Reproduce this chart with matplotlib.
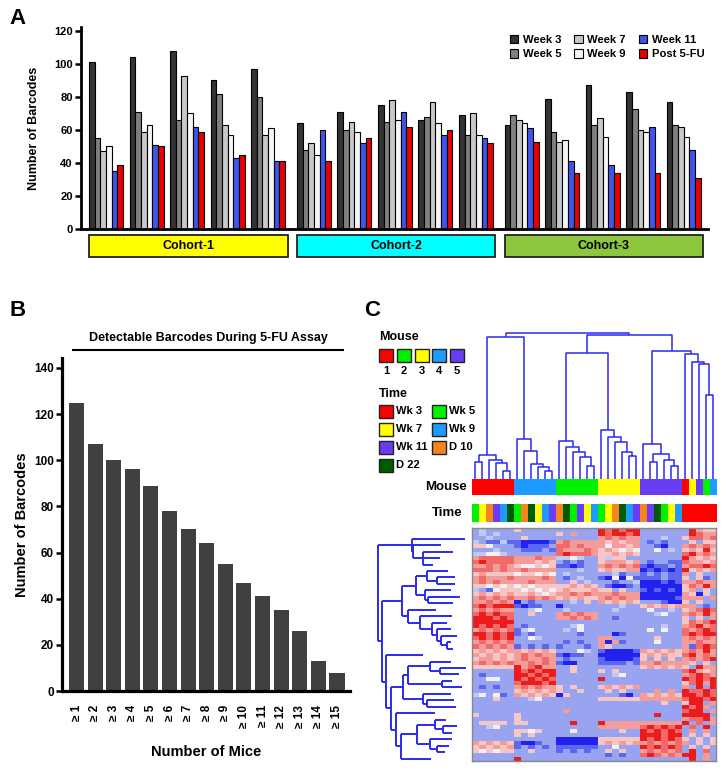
## Barcode tracking figure: bar charts (A, B) and clustered heatmap (C)
import numpy as np
from matplotlib import pyplot as plt
from matplotlib.patches import Rectangle
from matplotlib.colors import ListedColormap
import matplotlib.transforms as mtransforms

plt.rcParams['font.family'] = ['Liberation Sans', 'DejaVu Sans']
plt.rcParams['font.weight'] = 'bold'

## ---------------- panel A data ----------------
Weeks=['Week 3','Week 5','Week 7','Week 9','Week 11','Post 5-FU']
WeekCols=['#333333','#808080','#c8c8c8','#f5f5f5','#3f55ea','#e80000']
Cohorts=['Cohort-1','Cohort-2','Cohort-3']
CohortCols=['#ffff00','#00ffff','#8dc63f']
## one row per mouse (5 mice per cohort), one column per time point
Barcodes=np.array([
    [101,55,47,50,35,39],
    [104,71,59,63,51,50],
    [108,66,93,70,62,59],
    [90,82,63,57,43,45],
    [97,80,57,61,41,41],
    [64,48,52,45,60,41],
    [71,60,65,59,52,55],
    [75,65,78,66,71,62],
    [66,68,77,64,57,60],
    [69,57,70,57,55,52],
    [63,69,66,64,61,53],
    [79,59,53,54,41,34],
    [87,63,67,56,39,34],
    [83,73,60,59,62,34],
    [77,63,62,56,48,31]])
YTicksA=[0,20,40,60,80,100,120]

## ---------------- panel B data ----------------
MiceLabs=['≥ 1','≥ 2','≥ 3','≥ 4','≥ 5','≥ 6','≥ 7','≥ 8','≥ 9','≥ 10','≥ 11','≥ 12','≥ 13','≥ 14','≥ 15']
MiceCounts=[125,107,100,96,89,78,70,64,55,47,41,35,26,13,8]
YTicksB=[0,20,40,60,80,100,120,140]

## ---------------- panel C data ----------------
MouseLabs=['1','2','3','4','5']
MouseCols={1:'#ff0000',2:'#00f000',3:'#ffff00',4:'#1e9bff',5:'#6a3cf5'}
TimeLabs=['Wk 3','Wk 5','Wk 7','Wk 9','Wk 11','D 10','D 22']
TimeCols={'Wk 3':'#ff0000','Wk 5':'#00f000','Wk 7':'#ffff00','Wk 9':'#1e9bff',
          'Wk 11':'#6a3cf5','D 10':'#f7851e','D 22':'#005c00'}
## sample order of the heatmap columns
ColMouse=[1,1,1,1,1,1, 4,4,4,4,4,4, 2,2,2,2,2,2, 3,3,3,3,3,3, 5,5,5,5,5,5, 1,3,5,2,4]
ColTime=['Wk 5','Wk 7','D 10','Wk 11','Wk 9','D 22',
         'Wk 5','D 10','D 22','Wk 7','Wk 9','Wk 11',
         'D 10','D 22','Wk 5','Wk 11','Wk 7','Wk 9',
         'Wk 5','Wk 7','D 10','D 22','Wk 9','Wk 11',
         'D 10','Wk 11','D 22','Wk 5','Wk 7','Wk 9',
         'Wk 3','Wk 3','Wk 3','Wk 3','Wk 3']

## relative abundance levels (0 = deep blue ... 8 = red)
HeatRows=[
 "232222 522222 222222 878788 222222 28655",
 "232322 222222 526222 878878 222222 28766",
 "223222 252222 222222 676766 222322 57767",
 "321131 100001 676666 656566 212122 25255",
 "554222 101112 776766 646656 221022 67676",
 "222322 211121 766676 565454 224232 56585",
 "334432 222222 787776 556565 222222 78676",
 "677777 666766 334322 535522 222222 86565",
 "787777 666565 212122 566656 212211 76656",
 "667676 544545 110122 676767 101121 67787",
 "777676 676666 222322 565566 010101 85656",
 "565555 455454 232222 223122 121211 62522",
 "676667 666676 212322 104041 111211 52512",
 "676766 667666 225232 221223 000101 66766",
 "554545 454555 556565 210012 000000 57686",
 "321455 545454 565556 552522 101010 56252",
 "565656 556545 667676 667666 000000 65052",
 "676767 667676 565655 676766 000001 66626",
 "667676 021222 223252 656565 222100 52522",
 "787888 101122 022222 222322 565656 66212",
 "676766 223422 232222 223222 242232 56787",
 "787877 225222 676766 222222 223422 67686",
 "888787 222222 667676 221222 222222 52526",
 "888888 222222 222222 222222 222222 57678",
 "878787 212222 223422 222222 222322 67867",
 "676767 134222 232422 222222 242422 76787",
 "887878 121222 222122 220122 222222 78788",
 "787878 224322 222222 662222 225222 67676",
 "676767 222222 212122 606122 224222 66766",
 "767676 121212 122212 652222 222222 61787",
 "565656 656565 222432 100001 656565 67686",
 "656565 676766 101122 000000 565655 78676",
 "566565 676676 212222 100001 525252 67678",
 "676767 667676 100222 111121 667666 65252",
 "555555 867866 225222 222222 565656 52866",
 "222222 878788 225222 525222 222222 78656",
 "212222 887878 222222 223422 222222 67876",
 "224422 878787 222222 822222 222222 87878",
 "222222 788878 222222 222222 222222 57868",
 "212122 676766 525222 565656 222222 62828",
 "222222 565656 522522 252522 226262 87787",
 "342412 656565 052222 222102 656565 88787",
 "222522 223422 222222 555555 666666 78878",
 "222222 222222 222222 222222 222522 58826",
 "222222 222222 222222 222222 222222 87862",
 "222222 222222 262222 222222 222222 78826",
 "522222 522222 222222 222222 228222 88882",
 "222222 522222 222222 222222 222222 67786",
 "255552 552222 228222 866666 666666 82726",
 "223422 222222 222222 666666 787878 27282",
 "222222 554522 224222 222522 878787 26262",
 "222222 525222 222222 222222 888788 25252",
 "222222 222222 000000 555555 878787 52525",
 "656565 100122 000000 565656 676767 62525",
 "565656 121212 111111 224222 878787 25252",
 "545455 225222 121212 252522 676767 28272",
 "222222 222222 222222 212122 787676 88262",
 "222222 822222 222222 222222 222222 28262"]
HeatCols=['#2222f0','#5c66ee','#98a4f0','#c0c8f4','#f2f0f6','#f6c6c4','#f39c9a','#ef6a68','#ec1c1c']

## column tree: (link height, left, right), leaves are column numbers
m1=(72,(52,0,1),(57,2,(47,3,(25,4,5))))
m4=(119,6,(85,7,(46,8,(37,9,(25,10,11)))))
m2=(114,12,(97,13,(82,14,(65,15,(38,16,17)))))
m3=(147,18,(127,19,(112,20,(82,21,(70,22,23)))))
m5=(105,24,(75,(52,25,26),(57,27,(40,28,29))))
wk3=(374,30,(350,31,(345,32,(252,33,34))))
ColTree=(437,(425,m1,m4),(432,(379,m2,m3),(384,m5,wk3)))

## row tree: (node depth, [children]), leaves are the depth of their tips
rA=(125,[285,(130,[212,(160,[250,210,190])])])
rE=(137,[(172,[235,(200,[255,255])]),(165,[243,(175,[270,248])])])
rF=(115,[198,(150,[247,(185,[232,(200,[243,(213,[262,(230,[243,248])])])])])])
rM=(100,[(115,[(180,[242,(210,[288,268])]),(215,[245,276])]),(160,[242,(172,[253,258])])])
rN=(78,[195,(92,[(140,[(195,[228,(220,[262,245])]),(180,[245,(200,[238,225])])]),183])])
RowTree=(25,[rA,(37,[(95,[rE,rF]),(47,[160,(63,[rM,rN])])])])

DendCol='#2a2af0'

## ---------------- figure ----------------
W,H=725.,771.
fig=plt.figure(figsize=(W/100.,H/100.),dpi=100)

## helper: pixel box (left, top, right, bottom) -> figure fraction rect
def px(x0,y0,x1,y1):
    return [x0/W,1-y1/H,(x1-x0)/W,(y1-y0)/H]

## ===== panel A =====
axA=fig.add_axes(px(81,27,708,229))
bw=0.14
gx=np.arange(Barcodes.shape[0])+(np.arange(Barcodes.shape[0])//5)*0.13
for k in range(len(Weeks)):
    axA.bar(gx+k*bw,Barcodes[:,k],width=bw,align='edge',color=WeekCols[k],
            edgecolor='k',linewidth=0.8,label=Weeks[k])
axA.set_xlim(-0.198,15.28)
axA.set_ylim(0,122.4)
axA.set_yticks(YTicksA)
axA.set_xticks([])
for s in ['top','right']:
    axA.spines[s].set_visible(False)
for s in ['left','bottom']:
    axA.spines[s].set_linewidth(2)
axA.tick_params(axis='y',length=4,width=1.8,labelsize=8,pad=2)
axA.set_ylabel('Number of Barcodes',fontsize=9,fontweight='bold',labelpad=10)

trA=mtransforms.blended_transform_factory(axA.transData,axA.transAxes)
for c,lab in enumerate(Cohorts):
    x0=gx[c*5]-0.0
    x1=gx[c*5+4]+6*bw+0.06
    axA.add_patch(Rectangle((x0,-0.139),x1-x0,0.109,transform=trA,clip_on=False,
                            facecolor=CohortCols[c],edgecolor='#222222',linewidth=1.3))
    axA.text((x0+x1)/2.,-0.085,lab,transform=trA,ha='center',va='center',fontsize=9,fontweight='bold')

leg=axA.legend(loc='upper left',bbox_to_anchor=(0.684,0.96),ncol=3,frameon=False,
               fontsize=8.1,handlelength=0.75,handleheight=0.75,handletextpad=0.4,
               columnspacing=1.15,labelspacing=0.38,borderaxespad=0,borderpad=0)
fig.text(18/W,1-18/H,'A',fontsize=16,fontweight='bold',ha='center',va='center')

## ===== panel B =====
axB=fig.add_axes(px(62,358,350,691))
xb=np.arange(len(MiceCounts))
axB.bar(xb,MiceCounts,width=0.81,color='#404040')
axB.set_xlim(-0.78,14.7)
axB.set_ylim(0,144.3)
axB.set_yticks(YTicksB)
axB.set_xticks(xb)
axB.set_xticklabels(MiceLabs,rotation=90,fontsize=8.5,fontweight='bold')
for s in ['top','right']:
    axB.spines[s].set_visible(False)
for s in ['left','bottom']:
    axB.spines[s].set_linewidth(2.3)
axB.tick_params(axis='y',length=4,width=1.8,labelsize=8.5,pad=2)
axB.tick_params(axis='x',length=0,pad=10)
axB.set_ylabel('Number of Barcodes',fontsize=10.5,fontweight='bold',labelpad=3.5)
axB.set_xlabel('Number of Mice',fontsize=10.5,fontweight='bold',labelpad=12)
fig.text(208/W,1-338/H,'Detectable Barcodes During 5-FU Assay',fontsize=9,fontweight='bold',
         ha='center',va='center')
fig.add_artist(plt.Line2D([73/W,343/W],[1-350/H,1-350/H],color='k',linewidth=1.5))
fig.text(18/W,1-310/H,'B',fontsize=16,fontweight='bold',ha='center',va='center')

## ===== panel C =====
fig.text(372/W,1-310/H,'C',fontsize=16,fontweight='bold',ha='center',va='center')

## column dendrogram
axD=fig.add_axes(px(472,330,716,479))
def draw_top(node):
    if isinstance(node,int):
        return node+0.5,0
    h,l,r=node
    xl,hl=draw_top(l)
    xr,hr=draw_top(r)
    axD.plot([xl,xl,xr,xr],[hl,h,h,hr],color=DendCol,linewidth=1.1,solid_capstyle='butt')
    return (xl+xr)/2.,h
draw_top(ColTree)
axD.set_xlim(0,len(ColMouse))
axD.set_ylim(0,447)
axD.axis('off')

## mouse and time annotation bars
mouse_ids=sorted(MouseCols.keys())
axM=fig.add_axes(px(472,479,716,495))
axM.imshow([[mouse_ids.index(m) for m in ColMouse]],aspect='auto',interpolation='nearest',
           cmap=ListedColormap([MouseCols[m] for m in mouse_ids]),vmin=-0.5,vmax=len(mouse_ids)-0.5)
axM.axis('off')
axT=fig.add_axes(px(472,504,716,522))
axT.imshow([[TimeLabs.index(t) for t in ColTime]],aspect='auto',interpolation='nearest',
           cmap=ListedColormap([TimeCols[t] for t in TimeLabs]),vmin=-0.5,vmax=len(TimeLabs)-0.5)
axT.axis('off')
fig.text(467/W,1-487/H,'Mouse',fontsize=9.5,fontweight='bold',ha='right',va='center')
fig.text(462/W,1-513/H,'Time',fontsize=9.5,fontweight='bold',ha='right',va='center')

## heatmap
Heat=np.array([[int(ch) for ch in r.replace(' ','')] for r in HeatRows])
axH=fig.add_axes(px(472,528,716,761))
axH.imshow(Heat,aspect='auto',interpolation='nearest',cmap=ListedColormap(HeatCols),
           vmin=-0.5,vmax=len(HeatCols)-0.5)
axH.set_xticks([])
axH.set_yticks([])
for s in axH.spines.values():
    s.set_color('#888888')
    s.set_linewidth(1)

## row dendrogram
axL=fig.add_axes(px(370,528,472,761))
leafpos=[0]
def draw_left(node):
    if not isinstance(node,tuple):
        y=leafpos[0]
        leafpos[0]+=1
        return node,y
    x,kids=node
    pts=[draw_left(k) for k in kids]
    ys=[p[1] for p in pts]
    axL.plot([x,x],[min(ys),max(ys)],color=DendCol,linewidth=1.4,solid_capstyle='butt')
    for kx,ky in pts:
        axL.plot([x,kx],[ky,ky],color=DendCol,linewidth=1.4,solid_capstyle='butt')
    return x,np.mean(ys)
draw_left(RowTree)
axL.set_xlim(0,306)
axL.set_ylim(34.38,-1.65)
axL.axis('off')

## legends for the annotation bars
fig.text(379/W,1-337/H,'Mouse',fontsize=9,fontweight='bold',ha='left',va='center')
for i,lab in enumerate(MouseLabs):
    x0=379+i*17.8
    fig.add_artist(Rectangle((x0/W,1-362/H),14/W,13/H,transform=fig.transFigure,
                             facecolor=MouseCols[mouse_ids[i]],edgecolor='#222222',linewidth=1))
    fig.text((x0+7)/W,1-371/H,lab,fontsize=8,fontweight='bold',ha='center',va='center')
fig.text(379/W,1-394/H,'Time',fontsize=9,fontweight='bold',ha='left',va='center')
for i,lab in enumerate(TimeLabs):
    x0=379+(i%2)*53
    y0=405+(i//2)*17.9
    fig.add_artist(Rectangle((x0/W,1-(y0+13)/H),14/W,13/H,transform=fig.transFigure,
                             facecolor=TimeCols[lab],edgecolor='#222222',linewidth=1))
    fig.text((x0+17)/W,1-(y0+6.5)/H,lab,fontsize=8,fontweight='bold',ha='left',va='center')

fig.savefig('out.png',dpi=100)
